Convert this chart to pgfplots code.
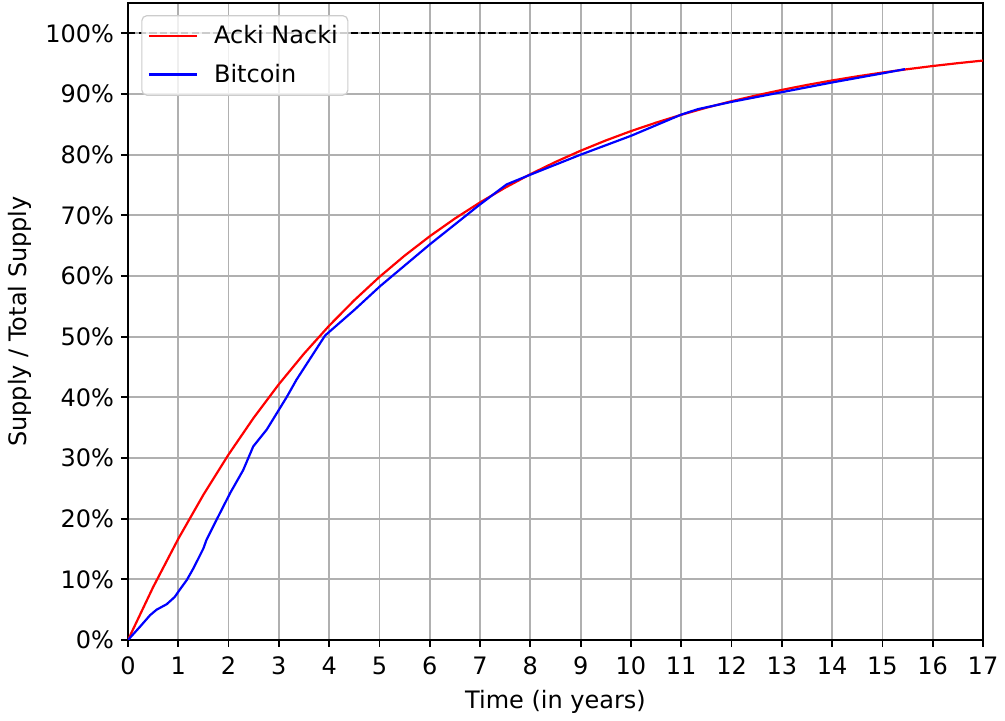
\documentclass[border=0pt]{standalone}
\usepackage{pgfplots}
\pgfplotsset{compat=1.18}
\usepackage{fontspec}
\setmainfont{DejaVu Sans}
\definecolor{gridgray}{HTML}{B0B0B0}
\definecolor{leggray}{HTML}{CCCCCC}
\begin{document}
\begin{tikzpicture}
\begin{axis}[
  scale only axis,
  width=427.5pt, height=318.5pt,
  xmin=0, xmax=17, ymin=0, ymax=105,
  xtick={0,1,...,17},
  ytick={0,10,...,100},
  yticklabel={\pgfmathprintnumber{\tick}\%},
  /pgf/number format/assume math mode=true,
  tick pos=left,
  tick align=outside,
  major tick length=3.5pt,
  tick style={black, line width=0.9pt},
  axis line style={black, line width=0.9pt},
  grid=major,
  major grid style={gridgray, line width=0.9pt},
  ticklabel style={font=\fontsize{12}{14}\selectfont},
  xticklabel style={yshift=-1.5pt},
  label style={font=\fontsize{12}{14}\selectfont},
  xlabel style={yshift=-0.8pt},
  xlabel={Time (in years)},
  ylabel={Supply / Total Supply},
  legend style={at={(0.0155,0.981)}, anchor=north west, draw=leggray, line width=0.6pt, rounded corners=2.5pt, fill=white, fill opacity=0.8, text opacity=1, font=\fontsize{12}{14}\selectfont, inner xsep=3pt, inner ysep=3pt, row sep=4.5pt},
  legend cell align=left,
  legend image code/.code={\draw[#1] (0pt,0pt) -- (24pt,0pt); \path (30pt,0pt);},
]
\addplot[black, line width=1pt, dash pattern=on 3.7pt off 1.6pt, forget plot] coordinates {(0,100) (17,100)};
\addplot[red, line width=1.1pt] coordinates {
(0,0) (0.5,8.72) (1,16.68) (1.5,23.95) (2,30.58) (2.5,36.64) (3,42.16) (3.5,47.20)
(4,51.81) (4.5,56.01) (5,59.85) (5.5,63.35) (6,66.55) (6.5,69.47) (7,72.13)
(7.5,74.56) (8,76.78) (8.5,78.80) (9,80.65) (9.5,82.34) (10,83.88) (10.5,85.28)
(11,86.57) (11.5,87.74) (12,88.81) (12.5,89.78) (13,90.67) (13.5,91.49) (14,92.23)
(14.5,92.91) (15,93.53) (15.5,94.09) (16,94.61) (16.5,95.08) (17,95.51)
};
\addlegendentry{Acki Nacki}
\addplot[blue, line width=1.1pt] coordinates {
(0,0) (0.24,2.2) (0.44,4.1) (0.57,5.0) (0.77,5.9) (0.93,7.1) (1.03,8.3) (1.17,9.9)
(1.30,11.8) (1.50,15.1) (1.56,16.5) (1.76,19.8) (2.03,24.2) (2.29,28.0) (2.49,31.9)
(2.76,34.7) (2.96,37.4) (3.16,40.1) (3.35,42.9) (3.92,50.2) (4.5,54.4) (5.01,58.3)
(6.0,65.2) (7.0,71.8) (7.53,75.1) (8.0,76.7) (9.0,80.0) (10.0,83.1) (11.0,86.6)
(11.33,87.5) (12.0,88.7) (13.0,90.3) (14.0,91.9) (15.0,93.4) (15.45,94.1)
};
\addlegendentry{Bitcoin}
\end{axis}
\path ([xshift=-64pt,yshift=-40pt]current axis.south west) rectangle ([xshift=11pt,yshift=1.5pt]current axis.north east);
\end{tikzpicture}
\end{document}
